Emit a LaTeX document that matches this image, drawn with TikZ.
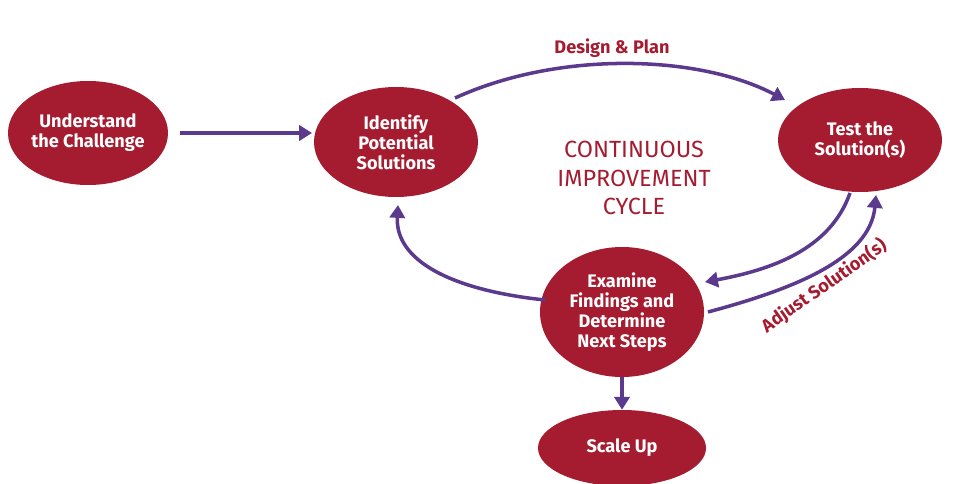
\documentclass[tikz,border=0pt]{standalone}
\usepackage{fontspec}
\setmainfont{Fira Sans}
\usetikzlibrary{shapes.geometric,arrows.meta}
\definecolor{cred}{HTML}{A51C30}
\definecolor{cpur}{HTML}{5B3A8E}
\begin{document}
\begin{tikzpicture}[x=0.03cm,y=-0.03cm,
  ell/.style={ellipse,fill=cred,text=white,font=\bfseries\fontsize{15.5}{17}\selectfont,align=center,inner sep=0pt},
  arr/.style={draw=cpur,line width=3pt,-{Triangle[length=11pt,width=13pt]}},
  lab/.style={text=cred,font=\bfseries\fontsize{15.5}{18}\selectfont}]
\useasboundingbox (0,0) rectangle (960,484);
\node[ell,minimum width=4.2cm,minimum height=3.12cm] (u) at (88,133) {Understand\\the Challenge};
\node[ell,minimum width=4.92cm,minimum height=3.3cm] (i) at (396,142) {Identify\\Potential\\Solutions};
\node[ell,minimum width=4.92cm,minimum height=3.12cm] (t) at (860,140) {Test the\\Solution(s)};
\node[ell,minimum width=4.92cm,minimum height=3.9cm] (e) at (622,312) {Examine\\Findings and\\Determine\\Next Steps};
\node[ell,minimum width=5.04cm,minimum height=2.28cm] (s) at (622,448) {Scale Up};
\node[text=cred,align=center,font=\fontsize{20}{24}\selectfont] (c) at (634,178) {CONTINUOUS\\IMPROVEMENT\\CYCLE};
\coordinate (u1) at (180,133);
\coordinate (i1) at (312,133);
\draw[arr] (u1) -- (i1);
\coordinate (a1) at (455,98);
\coordinate (a2) at (785,100);
\draw[arr] (a1) .. controls (560,50) and (700,55) .. (a2);
\node[lab] (dp) at (612,48) {Design \& Plan};
\coordinate (b1) at (850,193);
\coordinate (b2) at (705,282);
\draw[arr] (b1) .. controls (830,250) and (770,270) .. (b2);
\coordinate (c1) at (708,312);
\coordinate (c2) at (876,195);
\draw[arr] (c1) .. controls (790,290) and (870,260) .. (c2);
\node[lab,rotate=35] (ad) at (824,286) {Adjust Solution(s)};
\coordinate (d1) at (545,300);
\coordinate (d2) at (398,205);
\draw[arr] (d1) .. controls (450,290) and (395,260) .. (d2);
\draw[arr] (e.south) -- (s.north);
\end{tikzpicture}
\end{document}
